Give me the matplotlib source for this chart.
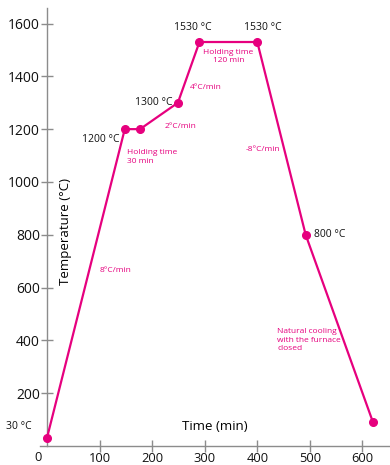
import matplotlib
matplotlib.use('Agg')
import matplotlib.pyplot as plt

plt.rcParams['font.family'] = ['Open Sans', 'DejaVu Sans']

# heat treatment schedule
time_min = [0, 148, 177, 249, 290, 400, 492, 620]
temp_c = [30, 1200, 1200, 1300, 1530, 1530, 800, 90]

xticks = [100, 200, 300, 400, 500, 600]
yticks = [200, 400, 600, 800, 1000, 1200, 1400, 1600]

pink = '#e6007e'
axis_grey = '#8c8c8c'

fig = plt.figure(figsize=(3.9, 4.65), dpi=100)
ax = fig.add_axes([0.1015, 0.0409, 0.898, 0.942])

ax.plot(time_min, temp_c, color=pink, lw=1.6, marker='o', ms=5.5,
        clip_on=False, zorder=3)

ax.set_xlim(-14, 652)
ax.set_ylim(0, 1659)
ax.set_xticks(xticks)
ax.set_yticks(yticks)

for s in ['top', 'right']:
    ax.spines[s].set_visible(False)
ax.spines['left'].set_position(('data', 0))
for s in ['left', 'bottom']:
    ax.spines[s].set_color(axis_grey)
    ax.spines[s].set_linewidth(1.0)
ax.tick_params(direction='inout', length=8, width=1.0, color=axis_grey,
               labelsize=10, labelcolor='#111111')
ax.tick_params(axis='y', pad=1)
ax.tick_params(axis='x', pad=0, labelsize=9.3)

# origin label
ax.text(-17, -18, '0', ha='center', va='top', fontsize=9.3, color='#111111')

ax.text(0.075, 0.49, 'Temperature (°C)', transform=ax.transAxes, rotation=90,
        ha='center', va='center', fontsize=9.5)
ax.text(320, 75, 'Time (min)', ha='center', va='center', fontsize=9.5)

# temperature labels
black = dict(fontsize=7.5, color='#111111', va='center')
ax.text(-77, 72, '30 °C', ha='left', **black)
ax.text(138, 1160, '1200 °C', ha='right', **black)
ax.text(238, 1300, '1300 °C', ha='right', **black)
ax.text(277, 1584, '1530 °C', ha='center', **black)
ax.text(411, 1584, '1530 °C', ha='center', **black)
ax.text(507, 800, '800 °C', ha='left', **black)

# rate and hold notes
note = dict(fontsize=6, color=pink)
ax.text(153, 1095, 'Holding time\n30 min', ha='left', va='center', linespacing=1.3, **note)
ax.text(223, 1209, '2°C/min', ha='left', va='center', **note)
ax.text(272, 1359, '4°C/min', ha='left', va='center', **note)
ax.text(345, 1475, 'Holding time\n120 min', ha='center', va='center', linespacing=1.3, **note)
ax.text(377, 1124, '-8°C/min', ha='left', va='center', **note)
ax.text(100, 663, '8°C/min', ha='left', va='center', **note)
ax.text(438, 400, 'Natural cooling\nwith the furnace\nclosed', ha='left', va='center',
        linespacing=1.3, **note)

fig.savefig('out.png', dpi=100)
